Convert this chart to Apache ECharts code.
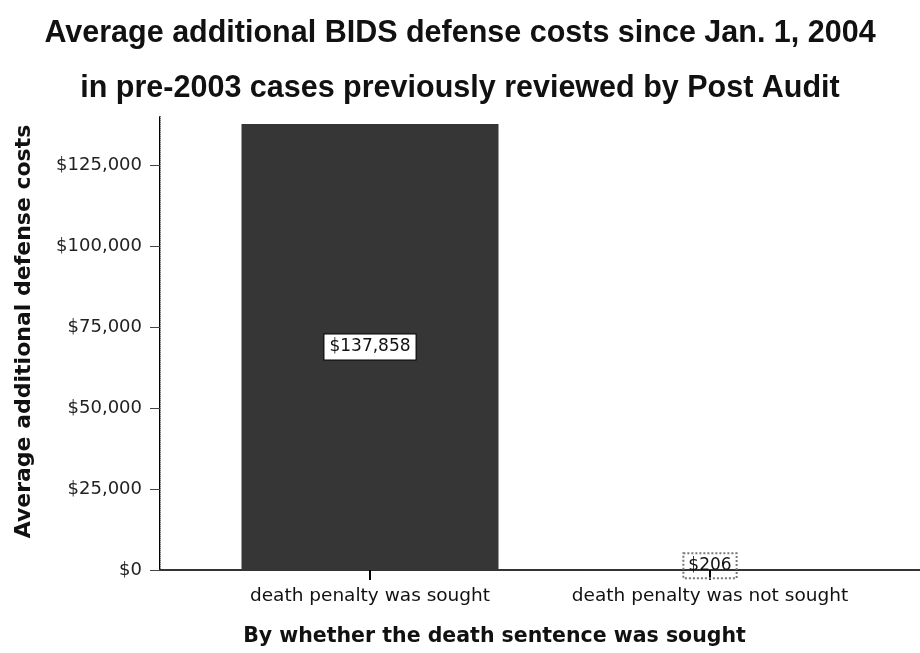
<!DOCTYPE html>
<html>
<head>
<meta charset="utf-8">
<script src="https://cdn.jsdelivr.net/npm/echarts@6/dist/echarts.min.js"></script>
<style>html,body{margin:0;padding:0;background:#fff}#c{width:920px;height:653px}</style>
</head>
<body>
<div id="c"></div>
<script>
const titleLines = ["Average additional BIDS defense costs since Jan. 1, 2004", "in pre-2003 cases previously reviewed by Post Audit"];
const categories = ["death penalty was sought", "death penalty was not sought"];
const avgCosts = [137858, 206];
const yTickStep = 25000;
const yMax = 140000;
const yAxisName = "Average additional defense costs";
const xAxisName = "By whether the death sentence was sought";

const fmtMoney = v => "$" + Math.round(v).toLocaleString("en-US");

const chart = echarts.init(document.getElementById("c"), null, {renderer: "canvas"});
const titleFont = {fontFamily: "Liberation Sans, Arial", fontWeight: "bold", fontSize: 30.5, color: "#111"};
const option = {
  animation: false,
  backgroundColor: "#fff",
  title: [
    {text: titleLines[0], left: "center", top: 13, textStyle: titleFont},
    {text: titleLines[1], left: "center", top: 68, textStyle: titleFont}
  ],
  grid: [
    {left: 160, right: 1, top: 117, bottom: 83},
    {left: 200, right: 40, top: 117, bottom: 83}
  ],
  xAxis: [
    {gridIndex: 0, type: "value", min: 0, max: 1, position: "bottom",
     axisLine: {show: true, lineStyle: {color: "#000", width: 2}},
     axisTick: {show: false}, axisLabel: {show: false}, splitLine: {show: false},
     name: xAxisName, nameLocation: "middle", nameGap: 56,
     nameTextStyle: {fontFamily: "DejaVu Sans, Verdana", fontWeight: "bold", fontSize: 20.5, color: "#111", padding: [0, 90, 0, 0]}},
    {gridIndex: 0, type: "value", min: 0, max: 1, position: "top",
     axisLine: {show: true, lineStyle: {color: "#333", width: 2}},
     axisTick: {show: false}, axisLabel: {show: false}, splitLine: {show: false}},
    {gridIndex: 1, type: "category", data: categories, position: "bottom",
     axisLine: {show: false},
     axisTick: {show: true, alignWithLabel: true, length: 10, lineStyle: {color: "#000", width: 2}},
     axisLabel: {interval: 0, hideOverlap: false, fontFamily: "DejaVu Sans, Verdana", fontSize: 18.5, color: "#111", margin: 17}}
  ],
  yAxis: [
    {gridIndex: 0, type: "value", min: 0, max: yMax, interval: yTickStep,
     axisLine: {show: true, lineStyle: {color: "#000", width: 2}},
     axisTick: {show: true, length: 10, lineStyle: {color: "#444"}},
     axisLabel: {fontFamily: "DejaVu Sans, Verdana", fontSize: 18, color: "#222", margin: 18,
                 showMaxLabel: false, formatter: fmtMoney},
     splitLine: {show: false},
     name: yAxisName, nameLocation: "middle", nameGap: 125, nameRotate: 90,
     nameTextStyle: {fontFamily: "DejaVu Sans, Verdana", fontWeight: "bold", fontSize: 22, color: "#111", padding: [0, 0, 0, 24]}},
    {gridIndex: 0, type: "value", min: 0, max: yMax, position: "right",
     axisLine: {show: true, lineStyle: {color: "#bbb", width: 1, type: "dotted"}},
     axisTick: {show: false}, axisLabel: {show: false}, splitLine: {show: false}},
    {gridIndex: 1, type: "value", min: 0, max: yMax, show: false}
  ],
  series: [{
    type: "bar",
    xAxisIndex: 2, yAxisIndex: 2,
    barWidth: 257,
    itemStyle: {color: "#363636"},
    data: avgCosts.map((v, i) => i === 0 ? {value: v} : {
      value: v,
      label: {borderColor: "#777", borderType: "dotted", backgroundColor: "rgba(255,255,255,0)", offset: [0, -4]}
    }),
    label: {
      show: true, position: "inside",
      formatter: p => fmtMoney(p.value),
      fontFamily: "DejaVu Sans, Verdana", fontSize: 17, color: "#111",
      backgroundColor: "#fff", borderColor: "#000", borderWidth: 1, padding: [4, 5]
    }
  }]
};
chart.setOption(option);
</script>
</body>
</html>
